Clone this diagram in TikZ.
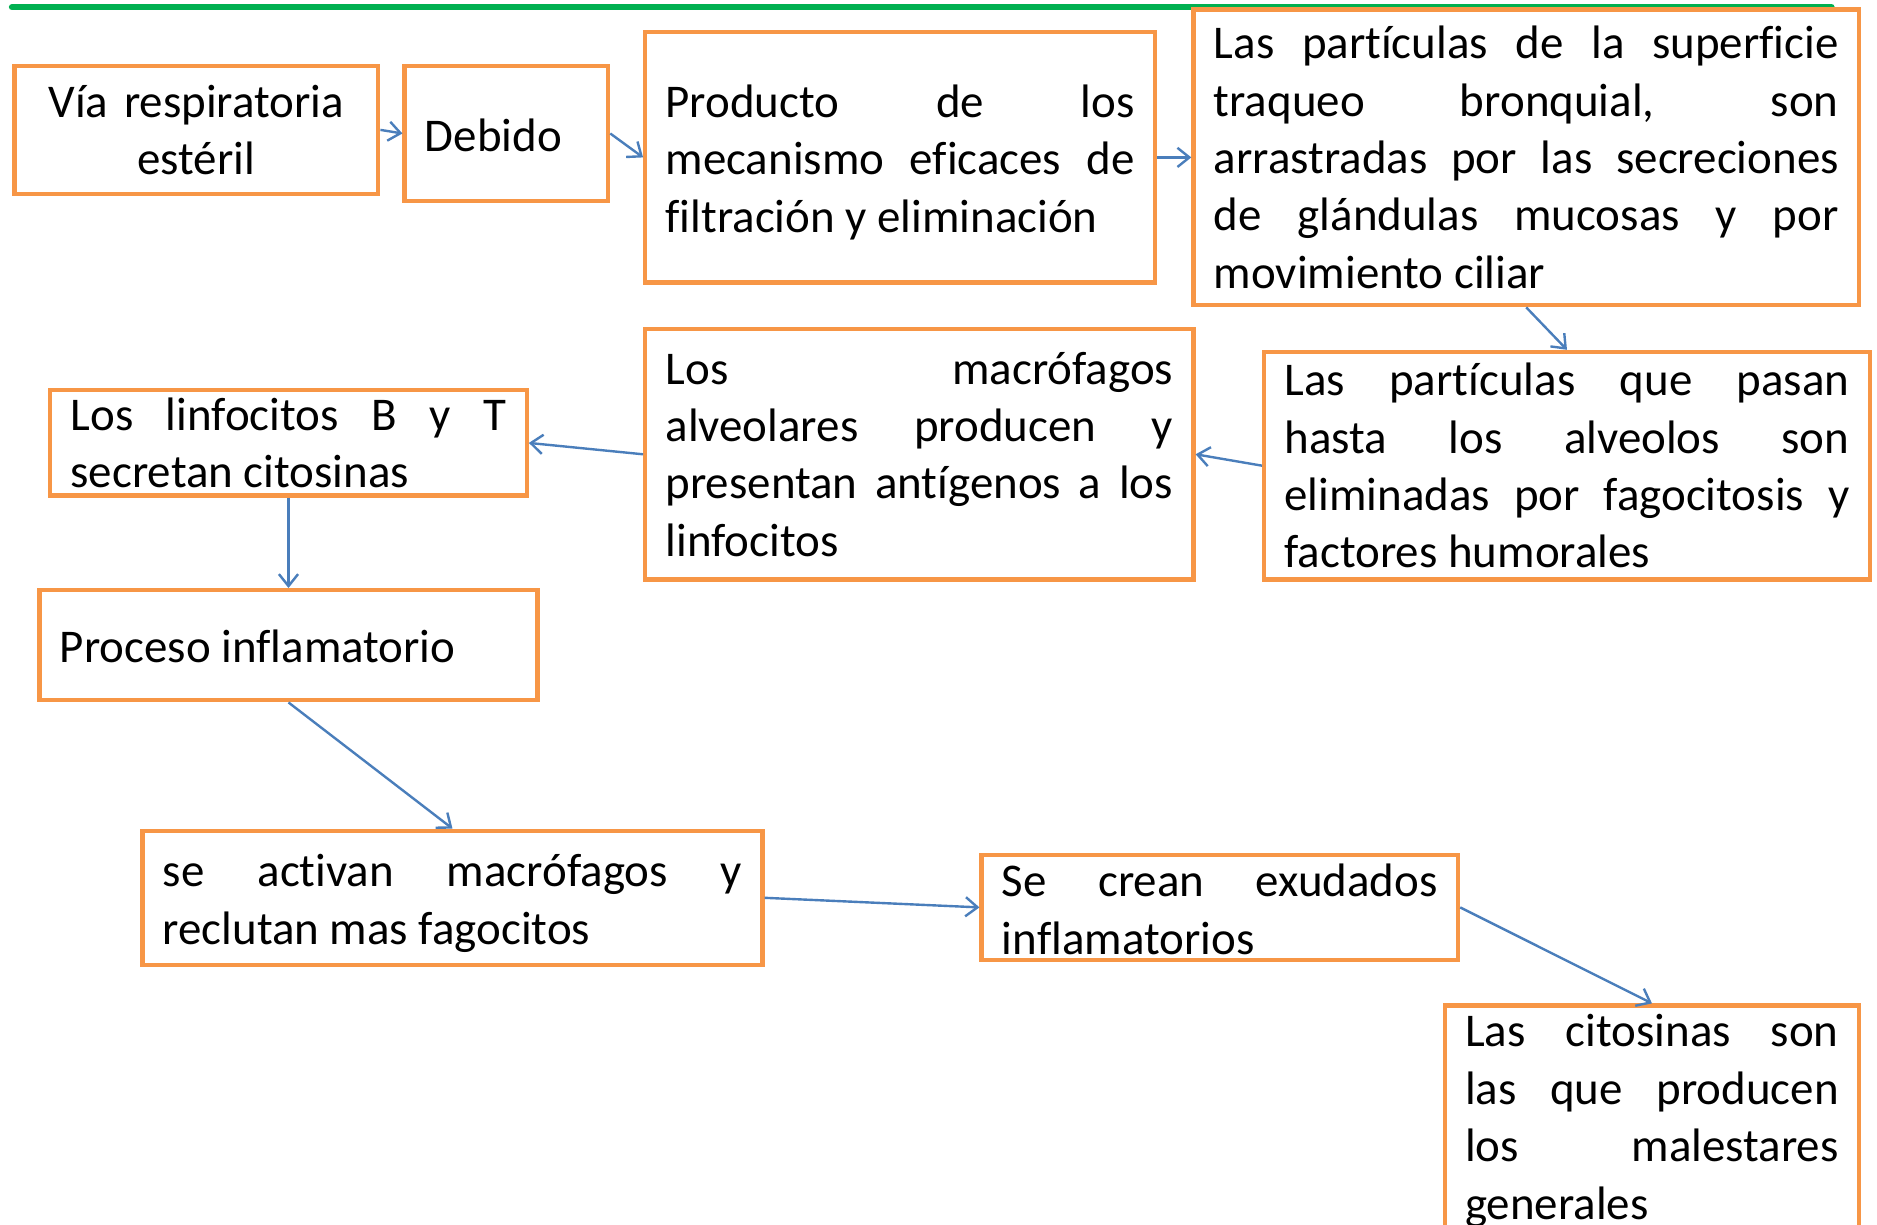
\documentclass[tikz,border=0pt]{standalone}
\usepackage{fontspec}
\setmainfont{Carlito}[Ligatures=NoCommon]
\usetikzlibrary{arrows.meta}
\definecolor{boxorange}{HTML}{F79646}
\definecolor{arrowblue}{HTML}{4A7EBB}
\definecolor{topgreen}{HTML}{00B050}
\newcommand\JL[1]{\hbox to \hsize{#1}}
\newcommand\LL[1]{\hbox to \hsize{#1\hfil}}
\newcommand\TB[3][0pt]{\vbox{\hsize=#2\relax\vskip#1\relax #3}}
\tikzset{
  box/.style={draw=boxorange, line width=1.8pt, fill=white, inner sep=0pt,
    font=\fontsize{19.6}{24}\selectfont},
  arr/.style={draw=arrowblue, line width=1pt, -{Straight Barb[length=5pt,width=8pt]}},
  greenline/.style={draw=topgreen, line width=2.6pt, line cap=round}
}
\begin{document}
\begin{tikzpicture}[x=0.5pt,y=-0.5pt]
\clip (0,0) rectangle (1568,1023);
\fill[white] (0,0) rectangle (1568,1023);
\coordinate (g1) at (10,6);
\coordinate (g2) at (1530,6);
\draw[greenline] (g1) -- (g2);

\node[box, minimum width=152pt, minimum height=53.5pt, text width=135pt, align=center] (b1) at (164,108.5)
  {Vía respiratoria\\estéril};
\node[box, minimum width=85pt, minimum height=56.5pt] (b2) at (423,111.5)
  {\TB[1.5pt]{68pt}{\LL{Debido}}};
\node[box, minimum width=213pt, minimum height=104.5pt] (b3) at (752,131.5)
  {\TB[4pt]{196pt}{\JL{Producto de los}\JL{mecanismo eficaces de}\LL{filtración y eliminación}}};
\node[box, minimum width=278pt, minimum height=123.5pt] (b4) at (1275,131.5)
  {\TB{261pt}{\JL{Las partículas de la superficie}\JL{traqueo bronquial, son}\JL{arrastradas por las secreciones}\JL{de glándulas mucosas y por}\LL{movimiento ciliar}}};
\node[box, minimum width=253pt, minimum height=95pt] (b5) at (1309,389)
  {\TB{236pt}{\JL{Las partículas que pasan}\JL{hasta los alveolos son}\JL{eliminadas por fagocitosis y}\LL{factores humorales}}};
\node[box, minimum width=229pt, minimum height=104.5pt] (b6) at (768,379.5)
  {\TB{212pt}{\JL{Los macrófagos}\JL{alveolares producen y}\JL{presentan antígenos a los}\LL{linfocitos}}};
\node[box, minimum width=199pt, minimum height=44pt] (b7) at (241,370)
  {\TB{182pt}{\JL{Los linfocitos B y T}\LL{secretan citosinas}}};
\node[box, minimum width=208pt, minimum height=46pt] (b8) at (241,539)
  {\TB[1pt]{191pt}{\LL{Proceso inflamatorio}}};
\node[box, minimum width=259pt, minimum height=56pt] (b9) at (378,750)
  {\TB[4.5pt]{242pt}{\JL{se activan macrófagos y}\LL{reclutan mas fagocitos}}};
\node[box, minimum width=199pt, minimum height=44pt] (b10) at (1019,758)
  {\TB[1.5pt]{182pt}{\JL{Se crean exudados}\LL{inflamatorios}}};
\node[box, minimum width=173pt, minimum height=93pt] (b11) at (1380,933)
  {\TB[3.5pt]{156pt}{\JL{Las citosinas son}\JL{las que producen}\JL{los malestares}\LL{generales}}};

\draw[arr] (b1.east) -- (b2.west);
\draw[arr] (b2.east) -- (b3.west);
\draw[arr] (b3.east) -- (b4.west);
\draw[arr] (b4.south) -- (b5.north);
\draw[arr] (b5.west) -- (b6.east);
\draw[arr] (b6.west) -- (b7.east);
\draw[arr] (b7.south) -- (b8.north);
\draw[arr] (b8.south) -- (b9.north);
\draw[arr] (b9.east) -- (b10.west);
\draw[arr] (b10.east) -- (b11.north);
\end{tikzpicture}
\end{document}
